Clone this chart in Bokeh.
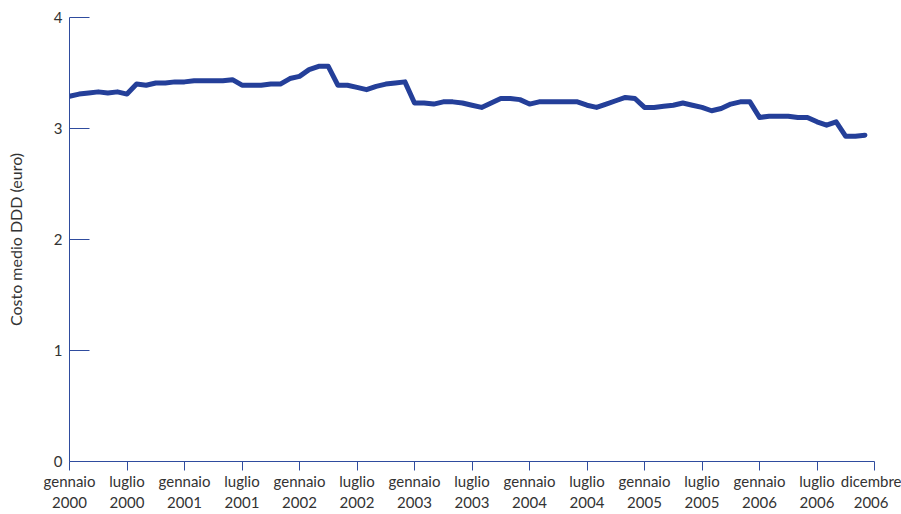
from bokeh.plotting import figure
from bokeh.models import FixedTicker, Range1d, ColumnDataSource
from bokeh.embed import file_html
from bokeh.resources import INLINE

# monthly average cost per DDD, gennaio 2000 .. dicembre 2006
costo = [3.29, 3.31, 3.32, 3.33, 3.32, 3.33, 3.31, 3.40, 3.39, 3.41, 3.41, 3.42,
         3.42, 3.43, 3.43, 3.43, 3.43, 3.44, 3.39, 3.39, 3.39, 3.40, 3.40, 3.45,
         3.47, 3.53, 3.56, 3.56, 3.39, 3.39, 3.37, 3.35, 3.38, 3.40, 3.41, 3.42,
         3.23, 3.23, 3.22, 3.24, 3.24, 3.23, 3.21, 3.19, 3.23, 3.27, 3.27, 3.26,
         3.22, 3.24, 3.24, 3.24, 3.24, 3.24, 3.21, 3.19, 3.22, 3.25, 3.28, 3.27,
         3.19, 3.19, 3.20, 3.21, 3.23, 3.21, 3.19, 3.16, 3.18, 3.22, 3.24, 3.24,
         3.10, 3.11, 3.11, 3.11, 3.10, 3.10, 3.06, 3.03, 3.06, 2.93, 2.93, 2.94]
mese = list(range(len(costo)))

tick_pos = [0, 6, 12, 18, 24, 30, 36, 42, 48, 54, 60, 66, 72, 78, 84]
tick_labels = ["gennaio\n2000", "luglio\n2000", "gennaio\n2001", "luglio\n2001",
               "gennaio\n2002", "luglio\n2002", "gennaio\n2003", "luglio\n2003",
               "gennaio\n2004", "luglio\n2004", "gennaio\n2005", "luglio\n2005",
               "gennaio\n2006", "luglio\n2006", "dicembre\n2006"]
y_ticks = [0, 1, 2, 3, 4]

BLUE = "#243f99"
AXIS = "#2f4c9e"
TXT = "#333333"
FONT = "Lato"

p = figure(width=901, height=514, output_backend="svg", toolbar_location=None,
           x_range=Range1d(0, 84), y_range=Range1d(0, 4),
           min_border_left=69, min_border_right=27, min_border_top=17,
           min_border_bottom=53)
p.outline_line_color = None
p.xgrid.visible = False
p.ygrid.visible = False
p.background_fill_color = "white"
p.border_fill_color = "white"

src = ColumnDataSource(dict(x=mese, y=costo))
p.line("x", "y", source=src, line_color=BLUE, line_width=5,
       line_join="round", line_cap="round")

xa = p.xaxis[0]
xa.ticker = FixedTicker(ticks=tick_pos)
xa.major_label_overrides = {t: l for t, l in zip(tick_pos, tick_labels)}
xa.minor_tick_line_color = None
xa.major_tick_out = 9
xa.major_tick_in = 0
xa.axis_line_color = AXIS
xa.major_tick_line_color = AXIS
xa.major_label_text_color = TXT
xa.major_label_text_font = FONT
xa.major_label_text_font_size = "15px"
xa.major_label_standoff = 1

ya = p.yaxis[0]
ya.ticker = FixedTicker(ticks=y_ticks)
ya.minor_tick_line_color = None
ya.major_tick_in = 20
ya.major_tick_out = 0
ya.axis_line_color = AXIS
ya.major_tick_line_color = AXIS
ya.major_label_text_color = TXT
ya.major_label_text_font = FONT
ya.major_label_text_font_size = "15px"
ya.major_label_standoff = 7
ya.axis_label = "Costo medio DDD (euro)"
ya.axis_label_text_font = FONT
ya.axis_label_text_font_size = "16px"
ya.axis_label_text_font_style = "normal"
ya.axis_label_text_color = TXT
ya.axis_label_standoff = 26

open("out.html", "w").write(file_html(p, INLINE))
